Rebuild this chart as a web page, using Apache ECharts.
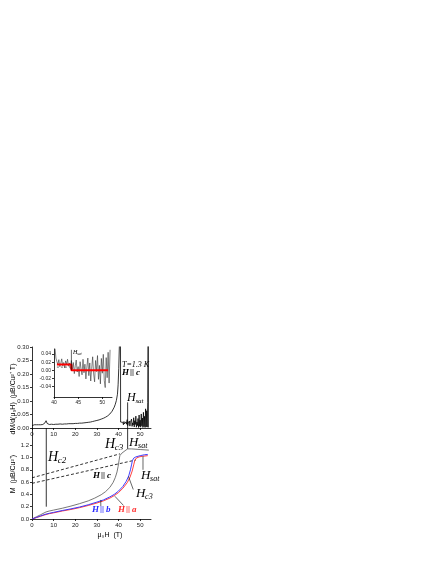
<!DOCTYPE html>
<html>
<head>
<meta charset="utf-8">
<script src="https://cdn.jsdelivr.net/npm/echarts@6/dist/echarts.min.js"></script>
<style>
html, body { margin: 0; padding: 0; background: #fff; }
#chart { width: 436px; height: 564px; }
</style>
</head>
<body>
<div id="chart"></div>
<script>
// top panel: dM/d(mu0H) at T = 1.3 K, H || c
var dmdhField = [0,0.5,1,1.5,2,2.5,3,3.5,4,4.5,5,5.5,6,6.5,7,7.5,8,8.5,9,9.5,
  10,10.5,11,11.5,12,12.5,13,13.5,14,14.5,15,15.5,16,16.5,17,17.5,18,18.5,19,19.5,
  20,20.5,21,21.5,22,22.5,23,23.5,24,24.5,25,25.5,26,26.5,27,27.5,28,28.5,29,29.5,
  30,30.5,31,31.5,32,32.5,33,33.5,34,34.5,35,35.5,36,36.5,37,37.5,38,38.5,39,39.5,
  39.8,40.1,40.4,40.9,40.95,
  41.25,41.5,41.75,42,42.25,42.5,42.75,43,43.25,43.5,43.75,44,44.25,44.5,44.75,45,
  45.25,45.5,45.75,46,46.25,46.5,46.75,47,47.25,47.5,47.75,48,48.25,48.5,48.75,49,
  49.25,49.5,49.75,50,50.25,50.5,50.75,51,51.25,51.5,51.75,52,52.25,52.5,52.75,53,
  53.25,53.5,53.7,53.8,54];
var dmdhValue = [0.008,0.011,0.012,0.013,0.012,0.013,0.012,0.013,0.012,0.013,0.013,0.015,0.019,0.027,0.017,0.011,0.013,0.010,0.014,0.011,
  0.013,0.010,0.014,0.011,0.014,0.012,0.015,0.011,0.014,0.012,0.015,0.012,0.015,0.013,0.016,0.012,0.016,0.013,0.016,0.014,
  0.017,0.014,0.017,0.015,0.018,0.015,0.018,0.016,0.019,0.017,0.020,0.018,0.021,0.019,0.022,0.020,0.024,0.022,0.026,0.024,
  0.028,0.026,0.030,0.029,0.033,0.031,0.036,0.035,0.040,0.039,0.045,0.046,0.052,0.055,0.062,0.068,0.077,0.088,0.102,0.125,
  0.16,0.22,0.31,0.36,0.022,
  0.020,0.027,0.017,0.021,0.012,0.024,0.015,0.019,0.010,0.023,0.014,0.031,0.009,0.018,0.012,0.026,
  0.007,0.021,0.015,0.033,0.006,0.019,0.011,0.038,0.004,0.027,0.013,0.044,0.003,0.022,0.009,0.035,
  0.002,0.048,0.006,0.029,0.003,0.052,0.008,0.037,0.002,0.058,0.005,0.043,0.002,0.071,0.004,0.064,
  0.003,0.095,0.36,0.002,0.001];

// inset: zoom of dM/dH around saturation
var insetField = [40.2,40.4,40.6,40.8,41,41.2,41.4,41.6,41.8,42,42.2,42.4,42.6,42.8,43,43.2,43.4,43.6,43.8,44,
  44.2,44.4,44.6,44.8,45,45.2,45.4,45.6,45.8,46,46.2,46.4,46.6,46.8,47,47.2,47.4,47.6,47.8,48,
  48.2,48.4,48.6,48.8,49,49.2,49.4,49.6,49.8,50,50.2,50.4,50.6,50.8,51,51.2,51.4,51.6];
var insetValue = [0.055,0.030,0.021,0.014,0.026,0.009,0.017,0.028,0.011,0.019,0.006,0.023,0.015,0.027,0.010,0.018,0.004,0.024,0.002,0.019,
  -0.008,0.011,0.025,-0.004,0.009,-0.015,0.021,0.003,-0.011,0.027,-0.006,0.015,-0.021,0.008,0.030,-0.013,0.018,-0.026,0.005,0.033,
  -0.009,-0.028,0.024,-0.003,0.036,-0.022,0.012,-0.033,0.029,-0.007,0.039,-0.025,-0.042,0.031,-0.018,0.044,-0.031,0.050];
var insetStepField = [40.6, 43.6, 43.6, 51.2];
var insetStepValue = [0.014, 0.014, 0.0, 0.0];
var insetDashField = [40.6, 43.3];
var insetDashValue = [0.008, 0.008];

// bottom panel: magnetization M (muB/Cu2+)
var mcField = [0,2,4,6.5,8,10,14,18,22,26,29,32,34,36,37.5,38.5,39.3,39.8,40.2,40.6,41.5,43,44.2,46,50,54];
var mcValue = [0,0.035,0.07,0.115,0.13,0.145,0.175,0.21,0.25,0.295,0.34,0.395,0.445,0.515,0.595,0.675,0.765,0.855,0.945,1.03,1.07,1.11,1.14,1.14,1.13,1.12];
var mbField = [0,2,4,6,8,10,14,18,22,26,30,33,36,38,40,42,43.5,44.7,45.5,46,46.4,47,48,50,52,53.5];
var mbValue = [0,0.025,0.05,0.075,0.093,0.108,0.138,0.165,0.195,0.232,0.275,0.31,0.36,0.40,0.455,0.53,0.61,0.70,0.80,0.88,0.95,0.99,1.01,1.03,1.045,1.05];
var maField = [0,2,4,6,8,10,14,18,22,26,30,33,36,38,40,42,44,45.3,46.3,47,47.5,48.2,49.5,51,53.5];
var maValue = [0,0.022,0.045,0.068,0.087,0.10,0.13,0.155,0.185,0.22,0.26,0.295,0.34,0.38,0.43,0.50,0.59,0.68,0.78,0.88,0.95,0.99,1.01,1.02,1.03];
var dashUpField = [0, 40.7];
var dashUpValue = [0.67, 1.06];
var dashLowField = [0, 48];
var dashLowValue = [0.58, 0.96];

// marker fields (T)
var hc2Field = 6.6;
var hsatField = 44.2;
var insetHsatField = 43.6;

// tick labels
var fieldTicks = [0, 10, 20, 30, 40, 50];
var dmdhTicks = [0, 0.05, 0.10, 0.15, 0.20, 0.25, 0.30];
var mTicks = [0, 0.2, 0.4, 0.6, 0.8, 1.0, 1.2];
var insetFieldTicks = [40, 45, 50];
var insetTicks = [-0.04, -0.02, 0, 0.02, 0.04];

var BLUE = '#2b2bff';
var RED = '#ff2b2b';

function zip(xs, ys) {
  return xs.map(function (x, i) { return [x, ys[i]]; });
}

function line(name, grid, data, color, width, type) {
  return {
    name: name,
    type: 'line',
    xAxisIndex: grid,
    yAxisIndex: grid,
    data: data,
    showSymbol: false,
    symbol: 'none',
    silent: true,
    lineStyle: { color: color, width: width, type: type || 'solid' }
  };
}

function xAxis(grid, min, max, ticks, size) {
  return {
    type: 'value', gridIndex: grid, min: min, max: max,
    axisLine: { onZero: false, lineStyle: { color: '#000', width: 0.8 } },
    axisTick: { length: 2, customValues: ticks, lineStyle: { color: '#000', width: 0.8 } },
    axisLabel: { customValues: ticks, fontSize: size, margin: 3, color: '#222', fontFamily: 'Liberation Sans' },
    splitLine: { show: false }
  };
}

function yAxis(grid, min, max, ticks, digits, size) {
  return {
    type: 'value', gridIndex: grid, min: min, max: max,
    axisLine: { show: true, onZero: false, lineStyle: { color: '#000', width: 0.8 } },
    axisTick: { show: true, length: 2, customValues: ticks, lineStyle: { color: '#000', width: 0.8 } },
    axisLabel: {
      customValues: ticks, fontSize: size, margin: 3, color: '#222', fontFamily: 'Liberation Sans',
      formatter: function (v) { return v.toFixed(digits); }
    },
    splitLine: { show: false }
  };
}

// "H" with a subscript, italic serif
function subLabel(x, y, sub, size) {
  return {
    type: 'group', x: x, y: y,
    children: [
      { type: 'text', style: { text: 'H', fontSize: size, fontStyle: 'italic', fontFamily: 'Liberation Serif', fill: '#000', verticalAlign: 'top' } },
      { type: 'text', x: size * 0.7, y: size * 0.45, style: { text: sub, fontSize: Math.round(size * 0.62), fontStyle: 'italic', fontFamily: 'Liberation Serif', fill: '#000', verticalAlign: 'top' } }
    ]
  };
}

// "H || a" style label, the || drawn as a light block
function parLabel(x, y, letter, color, boxColor) {
  var font = { fontSize: 9, fontStyle: 'italic', fontWeight: 'bold', fontFamily: 'Liberation Serif', fill: color, verticalAlign: 'top' };
  return {
    type: 'group', x: x, y: y,
    children: [
      { type: 'text', style: Object.assign({ text: 'H' }, font) },
      { type: 'rect', shape: { x: 8, y: 1, width: 4, height: 7 }, style: { fill: boxColor } },
      { type: 'text', x: 14, style: Object.assign({ text: letter }, font) }
    ]
  };
}

var myChart = echarts.init(document.getElementById('chart'));

function initOption() {
  var options = {
    animation: false,
    backgroundColor: '#fff',
    textStyle: { fontFamily: 'Liberation Sans' },
    grid: [
      { left: 32, top: 347, width: 119, height: 81 },
      { left: 32, top: 428, width: 119, height: 91 },
      { left: 54, top: 349, width: 58, height: 48 }
    ],
    xAxis: [
      xAxis(0, 0, 55, fieldTicks, 6),
      xAxis(1, 0, 55, fieldTicks, 6),
      xAxis(2, 40, 52, insetFieldTicks, 5)
    ],
    yAxis: [
      yAxis(0, 0, 0.30, dmdhTicks, 2, 6),
      yAxis(1, 0, 1.48, mTicks, 1, 6),
      yAxis(2, -0.065, 0.052, insetTicks, 2, 5)
    ],
    series: [
      line('dM/dH', 0, zip(dmdhField, dmdhValue), '#000', 0.8),
      line('Hsat top', 0, [[hsatField, 0.095], [hsatField, 0]], '#000', 0.8),

      line('inset', 2, zip(insetField, insetValue), '#333', 0.6),
      line('inset dash', 2, zip(insetDashField, insetDashValue), '#000', 0.6, [2, 2]),
      line('inset step', 2, zip(insetStepField, insetStepValue), '#ff0000', 2),
      line('inset Hsat', 2, [[insetHsatField, 0.0], [insetHsatField, 0.05]], '#000', 0.6),

      line('dash upper', 1, zip(dashUpField, dashUpValue), '#000', 0.8, [3, 2]),
      line('dash lower', 1, zip(dashLowField, dashLowValue), '#000', 0.8, [3, 2]),
      line('Hc2', 1, [[hc2Field, 1.48], [hc2Field, 0.2]], '#000', 0.8),
      line('Hsat', 1, [[hsatField, 1.48], [hsatField, 1.14]], '#000', 0.8),
      line('H||c', 1, zip(mcField, mcValue), '#555', 0.8),
      line('H||a', 1, zip(maField, maValue), RED, 0.9),
      line('H||b', 1, zip(mbField, mbValue), BLUE, 0.9),
      line('ptr b', 1, [[31.8, 0.31], [31.8, 0.21]], '#000', 0.6),
      line('ptr a', 1, [[38.3, 0.37], [42.3, 0.22]], '#000', 0.6),
      line('ptr c3', 1, [[44.6, 0.69], [46.8, 0.48]], '#000', 0.6),
      line('ptr sat', 1, [[51.3, 1.02], [51.3, 0.80]], '#000', 0.6)
    ],
    graphic: [
      // axis titles
      {
        type: 'text', x: 13, y: 399, rotation: Math.PI / 2,
        style: { text: 'dM/d(μ₀H)  (μB/Cu²⁺ T)', fontSize: 7, fontFamily: 'Liberation Sans', fill: '#000', align: 'center', verticalAlign: 'middle' }
      },
      {
        type: 'text', x: 13, y: 474, rotation: Math.PI / 2,
        style: { text: 'M  (μB/Cu²⁺)', fontSize: 7, fontFamily: 'Liberation Sans', fill: '#000', align: 'center', verticalAlign: 'middle' }
      },
      {
        type: 'text', x: 110, y: 535,
        style: { text: 'μ₀H  (T)', fontSize: 7, fontFamily: 'Liberation Sans', fill: '#000', align: 'center', verticalAlign: 'middle' }
      },
      // top panel notes
      {
        type: 'text', x: 122, y: 361,
        style: { text: 'T=1.3 K', fontSize: 8, fontStyle: 'italic', fontFamily: 'Liberation Serif', fill: '#000', verticalAlign: 'top' }
      },
      parLabel(122, 368, 'c', '#000', '#b0b0b0'),
      subLabel(127, 392, 'sat', 12),
      {
        type: 'group', x: 73, y: 349,
        children: [
          { type: 'text', style: { text: 'H', fontSize: 6, fontStyle: 'italic', fontFamily: 'Liberation Serif', fill: '#000', verticalAlign: 'top' } },
          { type: 'text', x: 4, y: 3, style: { text: 'sat', fontSize: 4, fontStyle: 'italic', fontFamily: 'Liberation Serif', fill: '#000', verticalAlign: 'top' } }
        ]
      },
      // bottom panel notes
      subLabel(48, 450, 'c2', 14),
      subLabel(105, 437, 'c3', 14),
      subLabel(129, 436, 'sat', 13),
      subLabel(141, 469, 'sat', 13),
      subLabel(136, 487, 'c3', 13),
      parLabel(93, 471, 'c', '#000', '#b0b0b0'),
      parLabel(92, 505, 'b', BLUE, '#b8b8ff'),
      parLabel(118, 505, 'a', RED, '#ffb8b8')
    ]
  };
  return options;
}

myChart.setOption(initOption());
</script>
</body>
</html>
